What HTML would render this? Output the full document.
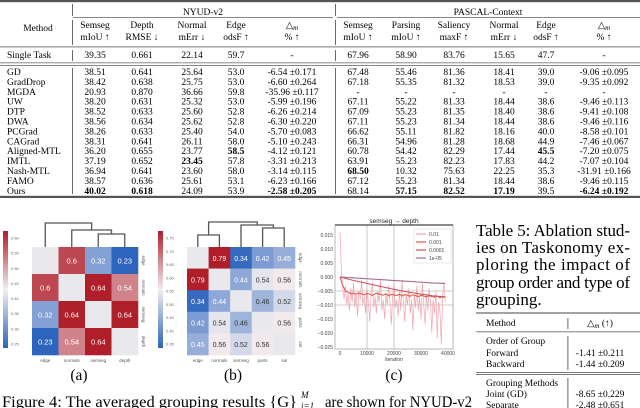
<!DOCTYPE html>
<html><head><meta charset="utf-8"><style>
html,body{margin:0;padding:0;background:#fff;}
svg{display:block;font-family:"Liberation Serif",serif;}
.s{font-family:"Liberation Sans","DejaVu Sans",sans-serif;}
</style></head><body>
<svg id="root" width="640" height="408" viewBox="0 0 640 408" xmlns="http://www.w3.org/2000/svg">
<g id="tbl"></g>
<g id="figa"></g>
<g id="figb"></g>
<g id="figc"></g>
<g font-size="15.5">
<text x="79" y="380" text-anchor="middle">(a)</text>
<text x="233" y="380" text-anchor="middle">(b)</text>
<text x="394" y="380" text-anchor="middle">(c)</text>
<text x="2" y="407" textLength="295" lengthAdjust="spacingAndGlyphs">Figure 4: The averaged grouping results {G}</text>
<text x="301" y="398" font-size="9" font-style="italic">M</text>
<text x="301" y="409" font-size="9" font-style="italic">i=1</text>
<text x="325" y="407" textLength="147" lengthAdjust="spacingAndGlyphs">are shown for NYUD-v2</text>
</g>
<g>
<g font-size="17">
<text x="476" y="236" textLength="154" lengthAdjust="spacing">Table 5: Ablation stud-</text>
<text x="476" y="253" textLength="154" lengthAdjust="spacing">ies on Taskonomy ex-</text>
<text x="476" y="270" textLength="154" lengthAdjust="spacing">ploring the impact of</text>
<text x="476" y="288" textLength="154" lengthAdjust="spacing">group order and type of</text>
<text x="476" y="305">grouping.</text>
</g>
<rect x="476" y="312.5" width="164" height="1" fill="#444"/>
<rect x="476" y="331.5" width="164" height="0.7" fill="#444"/>
<rect x="476" y="372" width="164" height="0.7" fill="#444"/>
<rect x="476" y="374.2" width="164" height="0.7" fill="#444"/>
<rect x="567.5" y="318" width="0.8" height="11" fill="#444"/>
<rect x="567.5" y="336" width="0.8" height="34" fill="#444"/>
<rect x="567.5" y="378" width="0.8" height="30" fill="#444"/>
<g font-size="9.5">
<text x="486" y="326">Method</text>
<text x="600" y="326" text-anchor="middle">△<tspan font-style="italic" font-size="7" dy="2">m</tspan><tspan dy="-2"> (↑)</tspan></text>
<text x="486" y="344">Order of Group</text>
<text x="486" y="356">Forward</text>
<text x="486" y="367">Backward</text>
<text x="600" y="356" text-anchor="middle">-1.41 ±0.211</text>
<text x="600" y="367" text-anchor="middle">-1.44 ±0.209</text>
<text x="486" y="386">Grouping Methods</text>
<text x="486" y="397">Joint (GD)</text>
<text x="486" y="408">Separate</text>
<text x="600" y="397" text-anchor="middle">-8.65 ±0.229</text>
<text x="600" y="408" text-anchor="middle">-2.48 ±0.651</text>
</g>
</g>
</svg>
<script>
const NS='http://www.w3.org/2000/svg';
function mk(tag,attrs,parent,txt){const e=document.createElementNS(NS,tag);for(const k in attrs)e.setAttribute(k,attrs[k]);if(txt!==undefined)e.textContent=txt;parent.appendChild(e);return e;}

/* ---------- main table ---------- */
const nyudHeads=[["Semseg","mIoU ↑"],["Depth","RMSE ↓"],["Normal","mErr ↓"],["Edge","odsF ↑"]];
const pascalHeads=[["Semseg","mIoU ↑"],["Parsing","mIoU ↑"],["Saliency","maxF ↑"],["Normal","mErr ↓"],["Edge","odsF ↑"]];
const singleTask=["Single Task","39.35","0.661","22.14","59.7","-","67.96","58.90","83.76","15.65","47.7","-"];
const methodRows=[
["GD","38.51","0.641","25.64","53.0","-6.54 ±0.171","67.48","55.46","81.36","18.41","39.0","-9.06 ±0.095"],
["GradDrop","38.42","0.638","25.75","53.0","-6.60 ±0.264","67.18","55.35","81.32","18.53","39.0","-9.35 ±0.092"],
["MGDA","20.93","0.870","36.66","59.8","-35.96 ±0.117","-","-","-","-","-","-"],
["UW","38.20","0.631","25.32","53.0","-5.99 ±0.196","67.11","55.22","81.33","18.44","38.6","-9.46 ±0.113"],
["DTP","38.52","0.633","25.60","52.8","-6.26 ±0.214","67.09","55.23","81.35","18.40","38.6","-9.41 ±0.108"],
["DWA","38.56","0.634","25.62","52.8","-6.30 ±0.220","67.11","55.23","81.34","18.44","38.6","-9.46 ±0.116"],
["PCGrad","38.26","0.633","25.40","54.0","-5.70 ±0.083","66.62","55.11","81.82","18.16","40.0","-8.58 ±0.101"],
["CAGrad","38.31","0.641","26.11","58.0","-5.10 ±0.243","66.31","54.96","81.28","18.68","44.9","-7.46 ±0.067"],
["Aligned-MTL","36.20","0.655","23.77","*58.5","-4.12 ±0.121","60.78","54.42","82.29","17.44","*45.5","-7.20 ±0.075"],
["IMTL","37.19","0.652","*23.45","57.8","-3.31 ±0.213","63.91","55.23","82.23","17.83","44.2","-7.07 ±0.104"],
["Nash-MTL","36.94","0.641","23.60","58.0","-3.14 ±0.115","*68.50","10.32","75.63","22.25","35.3","-31.91 ±0.166"],
["FAMO","38.57","0.636","25.61","53.1","-6.23 ±0.166","67.12","55.23","81.34","18.44","38.6","-9.46 ±0.115"],
["Ours","*40.02","*0.618","24.09","53.9","*-2.58 ±0.205","68.14","*57.15","*82.52","*17.19","39.5","*-6.24 ±0.192"]
];
const colX=[95,142,192,236,292,358,406,454,504,546,604];
(function(){
const T=document.getElementById('tbl');
const rule=(y,h,x1,x2)=>{const r=mk('rect',{x:x1,y:y,width:x2-x1,height:h,fill:'#555'},T);};
rule(0,2.2,0,640);rule(17,0.7,73,333);rule(17,0.7,337,640);rule(46.5,0.8,0,640);rule(62.5,0.7,0,640);rule(65,0.7,0,640);rule(195.8,2.2,0,640);
[[4,12],[20,25],[50,11],[68,126]].forEach(s=>{[72,335].forEach(x=>{const r=mk('rect',{x:x,y:s[0],width:0.8,height:s[1],fill:'#444'},T);});});
const g=mk('g',{'font-size':'9.5'},T);
const t1=mk('text',{x:203,y:15,'text-anchor':'middle'},g,'NYUD-v2');
const t2=mk('text',{x:488,y:15,'text-anchor':'middle'},g,'PASCAL-Context');
const t3=mk('text',{x:38,y:31,'text-anchor':'middle'},g,'Method');
const heads=nyudHeads.concat([null]).concat(pascalHeads).concat([null]);
heads.forEach((h,i)=>{
 if(h){const a=mk('text',{x:colX[i],y:28,'text-anchor':'middle'},g,h[0]);
  const b=mk('text',{x:colX[i],y:40,'text-anchor':'middle'},g,h[1]);}
 else{const a=mk('text',{x:colX[i],y:28,'text-anchor':'middle'},g);
  mk('tspan',{},a,'△');mk('tspan',{'font-style':'italic','font-size':'7',dy:'2'},a,'m');
  const b=mk('text',{x:colX[i],y:40,'text-anchor':'middle'},g,'% ↑');}
});
function row(r,y){
 const n=mk('text',{x:7,y:y},g,r[0]);
 for(let i=1;i<r.length;i++){let v=r[i],b=false;if(v[0]==='*'){b=true;v=v.slice(1);}
  const c=mk('text',{x:colX[i-1],y:y,'text-anchor':'middle','font-weight':b?'bold':'normal'},g,v);}
}
row(singleTask,58);
methodRows.forEach((r,i)=>row(r,75+i*9.9));
})();

/* ---------- heatmaps ---------- */
const labelsA=["edge","normals","semseg","depth"];
const valuesA=[[null,0.6,0.32,0.23],[0.6,null,0.64,0.54],[0.32,0.64,null,0.64],[0.23,0.54,0.64,null]];
const ticksA=["0.60","0.55","0.50","0.45","0.40","0.35","0.30","0.25"];
const labelsB=["edge","normals","semseg","parts","sal"];
const valuesB=[[null,0.79,0.34,0.42,0.45],[0.79,null,0.44,0.54,0.56],[0.34,0.44,null,0.46,0.52],[0.42,0.54,0.46,null,0.56],[0.45,0.56,0.52,0.56,null]];
const ticksB=["0.75","0.70","0.65","0.60","0.55","0.50","0.45","0.40","0.35"];
function lerp(a,b,t){return a.map((v,i)=>Math.round(v+(b[i]-v)*t));}
const LOW=[44,100,190],MID=[242,238,240],HIGH=[176,30,42];
function cmap(v,vmin,vmax){const t=Math.max(0,Math.min(1,(v-vmin)/(vmax-vmin)));const c=t<0.5?lerp(LOW,MID,t/0.5):lerp(MID,HIGH,(t-0.5)/0.5);return {rgb:'rgb('+c.join(',')+')',t:t};}
function heatmap(gid,labels,vals,ticks,x0,y0,w,h,vmin,vmax,cbx,dendro,fs){
 const G=document.getElementById(gid);const n=labels.length;const cw=w/n,ch=h/n;
 const cx=i=>x0+i*cw, cy=j=>y0+j*ch;
 for(let j=0;j<n;j++)for(let i=0;i<n;i++){const v=vals[j][i];
  const fill=v===null?'#e9e9ed':cmap(v,vmin,vmax).rgb;
  const r=mk('rect',{x:cx(i),y:cy(j),width:cw+0.3,height:ch+0.3,fill:fill},G);
  if(v!==null){const t=cmap(v,vmin,vmax).t;const light=(t>0.28&&t<0.72);
   const tx=mk('text',{x:cx(i)+cw/2,y:cy(j)+ch/2+3,'text-anchor':'middle','font-size':fs,fill:light?'#333':'#fff',class:'s'},G,String(v));}
 }
 labels.forEach((l,i)=>{
  const a=mk('text',{x:cx(i)+cw/2,y:y0+h+7,'text-anchor':'middle','font-size':'4.5',fill:'#555',class:'s'},G,l);
  const yy=cy(i)+ch/2;const b=mk('text',{x:x0+w+4,y:yy,'text-anchor':'middle','font-size':'4.5',fill:'#555',class:'s',transform:'rotate(90 '+(x0+w+4)+' '+yy+')'},G,l);
 });
 // colorbar
 const id=gid+'grad';const d=mk('defs',{},G);const lg=mk('linearGradient',{id:id,x1:0,y1:1,x2:0,y2:0},d);
 for(let k=0;k<=10;k++){const c=cmap(vmin+(vmax-vmin)*k/10,vmin,vmax).rgb;mk('stop',{offset:k/10,'stop-color':c},lg);}
 const cb=mk('rect',{x:cbx,y:231,width:5,height:117,fill:'url(#'+id+')'},G);
 ticks.forEach((t,k)=>{const y=238+k*(106/(ticks.length-1));const tl=mk('text',{x:cbx+8,y:y+1.5,'font-size':'4',fill:'#666',class:'s'},G,t);});
 // dendrogram
 const lx=i=>cx(i)+cw/2;
 dendro.forEach(s=>{const p=mk('path',{d:'M'+s[0]+' '+s[1]+' V'+s[3]+' H'+s[2]+' V'+s[4],fill:'none',stroke:'#555','stroke-width':1.3},G);});
 return lx;
}
(function(){
 const a0=32,aw=106,cwA=aw/4;const L=i=>a0+cwA*i+cwA/2;
 const m1=(L(2)+L(3))/2,m2=(L(1)+m1)/2;
 heatmap('figa',labelsA,valuesA,ticksA,32,247,106,108,0.23,0.64,3,
  [[L(2),247,L(3),234,247],[L(1),247,m1,230,234],[L(0),247,m2,223,230]],'7.5');
 const b0=187,bw=108,cwB=bw/5;const M=i=>b0+cwB*i+cwB/2;
 const n1=(M(0)+M(1))/2,n2=(M(3)+M(4))/2,n3=(M(2)+n2)/2;
 heatmap('figb',labelsB,valuesB,ticksB,187,247,108,108,0.33,0.78,158,
  [[M(0),247,M(1),235,247],[M(3),247,M(4),228,247],[M(2),247,n2,225,228],[n1,235,n3,222,225]],'7');
})();

/* ---------- line chart (c) ---------- */
const xTicks=[0,10000,20000,30000,40000];
const xTickLabels=["0","10000","20000","30000","40000"];
const yTicks=[0.015,0.010,0.005,0.000,-0.005,-0.010,-0.015,-0.020,-0.025];
const yTickLabels=["0.015","0.010","0.005","0.000","\u22120.005","\u22120.010","\u22120.015","\u22120.020","\u22120.025"];
const seriesNames=["0.01","0.001","0.0001","1e-05"];
const lr01=[0.016,0.002,-0.004,-0.008,-0.003,-0.010,-0.006,-0.012,-0.004,-0.009,
-0.002,-0.011,-0.006,-0.014,-0.005,-0.008,-0.001,-0.010,-0.007,-0.013,
-0.004,-0.009,-0.016,-0.006,-0.002,-0.011,-0.007,-0.013,-0.005,-0.009,
-0.001,-0.012,-0.008,-0.015,-0.006,-0.010,-0.003,-0.009,-0.017,-0.007,
-0.002,-0.011,-0.008,-0.014,-0.005,-0.012,-0.001,-0.009,-0.016,-0.006,
-0.010,-0.004,-0.013,-0.008,-0.019,-0.006,-0.011,-0.003,-0.012,-0.007,
-0.015,-0.002,-0.010,-0.017,-0.006,-0.012,-0.004,-0.009,-0.020,-0.008,
-0.013,-0.005,-0.022,-0.009,-0.012,-0.024,-0.007,-0.002,-0.009];
const lr001=[0,-0.003,-0.005,-0.0055,-0.006,-0.0058,-0.0062,-0.0056,-0.006,-0.0064,-0.0059,-0.0061,-0.0066,-0.006,-0.0058,-0.0063,-0.0065,-0.006,-0.0067,-0.0062,-0.0064,-0.0066,-0.0061,-0.0068,-0.0063,-0.0065,-0.0069,-0.0064,-0.0066,-0.007,-0.0065,-0.0068,-0.0071,-0.0066,-0.007,-0.0072,-0.0068,-0.0074,-0.0071,-0.0073];
const lr0001=[0,-0.0012,-0.0022,-0.0033,-0.0043,-0.0052,-0.006,-0.0067,-0.0071];
const lr1e5=[0,-0.0003,-0.0006,-0.0009,-0.0012,-0.0015,-0.0018,-0.0021,-0.0023];
const stepSizes=[500,1000,4875,4875];
(function(){
 const G=document.getElementById('figc');
 const L=335,R=453,T=225,B=349;
 const xs=v=>340+v*(448-340)/40000;
 const ys=v=>277-v*2800;
 const bg=mk('rect',{x:L,y:T,width:R-L,height:B-T,fill:'#fff'},G);
 [10000,20000].forEach(v=>{const l=mk('line',{x1:xs(v),x2:xs(v),y1:T,y2:B,stroke:'#bbb','stroke-width':0.8},G);});
 [-0.005,-0.010].forEach(v=>{const l=mk('line',{x1:L,x2:R,y1:ys(v),y2:ys(v),stroke:'#bbb','stroke-width':0.8},G);});
 const all=[lr01,lr001,lr0001,lr1e5];
 const colors=['#f3a3ae','#e45a4e','#c9515f','#a06a92'];
 const widths=[0.7,1.1,1,1.1];
 all.forEach((arr,k)=>{const pts=arr.map((v,i)=>xs(i*stepSizes[k]).toFixed(1)+','+ys(v).toFixed(1)).join(' ');
  const p=mk('polyline',{points:pts,fill:'none',stroke:colors[k],'stroke-width':widths[k]},G);});
 const fr=mk('rect',{x:L,y:T,width:R-L,height:B-T,fill:'none',stroke:'#999','stroke-width':0.7},G);
 const tl=mk('line',{x1:L,x2:R,y1:T,y2:T,stroke:'#444','stroke-width':1.2},G);
 const title=mk('text',{x:394,y:223,'text-anchor':'middle','font-size':'6.5',fill:'#222',class:'s'},G,'semseg \u2192 depth');
 yTicks.forEach((v,i)=>{const t=mk('text',{x:L-2,y:ys(v)+1.8,'text-anchor':'end','font-size':'5',fill:'#444',class:'s'},G,yTickLabels[i]);});
 xTicks.forEach((v,i)=>{const t=mk('text',{x:xs(v),y:355,'text-anchor':'middle','font-size':'5',fill:'#444',class:'s'},G,xTickLabels[i]);});
 const xl=mk('text',{x:394,y:361,'text-anchor':'middle','font-size':'5',fill:'#444',class:'s'},G,'iteration');
 const lb=mk('rect',{x:414,y:229,width:37,height:34,fill:'#fff',stroke:'#ddd','stroke-width':0.6},G);
 seriesNames.forEach((n,k)=>{const y=234+k*8;
  const l=mk('line',{x1:416,x2:426,y1:y,y2:y,stroke:colors[k],'stroke-width':1.2},G);
  const t=mk('text',{x:429,y:y+1.8,'font-size':'5',fill:'#444',class:'s'},G,n);});
})();
</script>
</body></html>
